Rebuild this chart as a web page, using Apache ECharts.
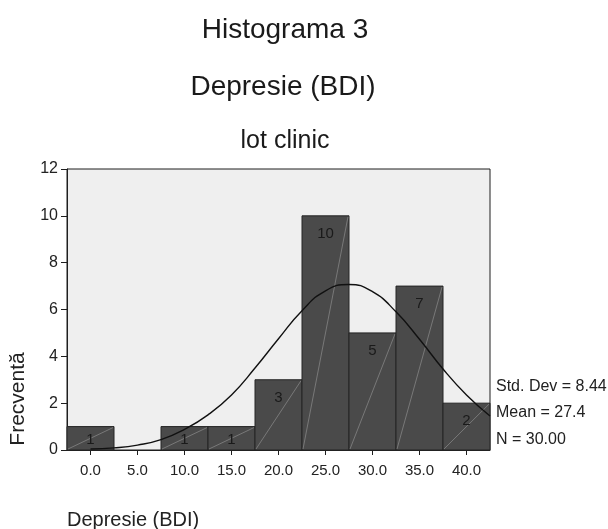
<!DOCTYPE html>
<html>
<head>
<meta charset="utf-8">
<script src="https://cdn.jsdelivr.net/npm/echarts@6/dist/echarts.min.js"></script>
<style>
html,body{margin:0;padding:0;background:#fff;}
#chart{width:608px;height:529px;}
</style>
</head>
<body>
<div id="chart"></div>
<script>
// Histogram bins (Depresie BDI, lot clinic)
const binStarts = [-2.5, 2.5, 7.5, 12.5, 17.5, 22.5, 27.5, 32.5, 37.5];
const binEnds   = [2.5, 7.5, 12.5, 17.5, 22.5, 27.5, 32.5, 37.5, 42.5];
const counts    = [1, 0, 1, 1, 3, 10, 5, 7, 2];

// Normal curve
const curveX = [0, 2.5, 5, 7.5, 10, 12.5, 15, 17.5, 20, 22.5, 25, 27.5, 30, 32.5, 35, 37.5, 40, 42.5];
const curveY = [0.04, 0.09, 0.21, 0.44, 0.88, 1.5, 2.35, 3.5, 4.75, 5.95, 6.8, 7.07, 6.76, 5.9, 4.73, 3.46, 2.35, 1.45];

// Axis ticks
const xTickValues = [0, 5, 10, 15, 20, 25, 30, 35, 40];
const xTickLabels = ['0.0', '5.0', '10.0', '15.0', '20.0', '25.0', '30.0', '35.0', '40.0'];

// Texts
const titleMain = 'Histograma 3';
const titleSub = 'Depresie (BDI)';
const titleGroup = 'lot clinic';
const yName = 'Frecventă';
const xName = 'Depresie (BDI)';
const statLines = ['Std. Dev = 8.44', 'Mean = 27.4', 'N = 30.00'];

const FONT = '"Liberation Sans", Arial, sans-serif';

const histData = binStarts.map((s, i) => [s, binEnds[i], counts[i]]);
const curveData = curveX.map((x, i) => [x, curveY[i]]);

const chart = echarts.init(document.getElementById('chart'));

const option = {
  backgroundColor: '#ffffff',
  animation: false,
  title: [
    { text: titleMain, left: 280, textAlign: 'center', top: 11,
      textStyle: { fontFamily: FONT, fontSize: 28, fontWeight: 'normal', color: '#1a1a1a' } },
    { text: titleSub, left: 278, textAlign: 'center', top: 68,
      textStyle: { fontFamily: FONT, fontSize: 28, fontWeight: 'normal', color: '#1a1a1a' } },
    { text: titleGroup, left: 280, textAlign: 'center', top: 124,
      textStyle: { fontFamily: FONT, fontSize: 25, fontWeight: 'normal', color: '#1a1a1a' } }
  ],
  grid: {
    left: 67, right: 118, top: 169, bottom: 79,
    show: true, backgroundColor: '#efefef', borderColor: '#1e1e1e', borderWidth: 1
  },
  xAxis: {
    type: 'value', min: -2.5, max: 42.5,
    splitLine: { show: false },
    axisLine: { show: true, onZero: false, lineStyle: { color: '#1e1e1e', width: 1 } },
    axisTick: { show: true, customValues: xTickValues, length: 5, lineStyle: { color: '#1e1e1e' } },
    axisLabel: {
      customValues: xTickValues, margin: 13,
      formatter: v => xTickLabels[xTickValues.indexOf(v)] ?? '',
      fontFamily: FONT, fontSize: 15, color: '#222'
    }
  },
  yAxis: {
    type: 'value', min: 0, max: 12, interval: 2,
    splitLine: { show: false },
    axisLine: { show: true, onZero: false, lineStyle: { color: '#1e1e1e', width: 1 } },
    axisTick: { show: true, length: 6, lineStyle: { color: '#1e1e1e' } },
    axisLabel: { margin: 9, fontFamily: FONT, fontSize: 16, color: '#222' }
  },
  series: [
    {
      type: 'custom',
      data: histData,
      encode: { x: [0, 1], y: 2 },
      z: 2,
      renderItem: function (params, api) {
        const s = api.value(0), e = api.value(1), c = api.value(2);
        if (!c) return null;
        const tl = api.coord([s, c]);
        const br = api.coord([e, 0]);
        const x = tl[0], y = tl[1], w = br[0] - tl[0], h = br[1] - tl[1];
        return {
          type: 'group',
          children: [
            { type: 'rect', shape: { x: x, y: y, width: w, height: h },
              style: { fill: '#4a4a4a', stroke: '#242424', lineWidth: 1 } },
            { type: 'line', shape: { x1: x + 1, y1: y + h - 1, x2: x + w - 1, y2: y + 1 },
              style: { stroke: '#8c8c8c', lineWidth: 0.7 } },
            { type: 'text', style: { text: String(c), x: x + w / 2,
              y: Math.min(y + 18, y + h - 10), align: 'center', verticalAlign: 'middle',
              fill: '#1a1a1a', font: '15px ' + FONT } }
          ]
        };
      }
    },
    {
      type: 'line',
      data: curveData,
      smooth: true,
      showSymbol: false,
      symbol: 'none',
      z: 3,
      lineStyle: { color: '#111', width: 1.4 }
    }
  ],
  graphic: [
    { type: 'text', x: 18, y: 399, rotation: Math.PI / 2,
      style: { text: yName, align: 'center', verticalAlign: 'middle', fill: '#222', font: '21px ' + FONT } },
    { type: 'text', x: 67, y: 520,
      style: { text: xName, align: 'left', verticalAlign: 'middle', fill: '#222', font: '20px ' + FONT } },
    { type: 'text', x: 496, y: 387,
      style: { text: statLines[0], align: 'left', verticalAlign: 'middle', fill: '#222', font: '16px ' + FONT } },
    { type: 'text', x: 496, y: 413,
      style: { text: statLines[1], align: 'left', verticalAlign: 'middle', fill: '#222', font: '16px ' + FONT } },
    { type: 'text', x: 496, y: 440,
      style: { text: statLines[2], align: 'left', verticalAlign: 'middle', fill: '#222', font: '16px ' + FONT } }
  ]
};

chart.setOption(option);
</script>
</body>
</html>
